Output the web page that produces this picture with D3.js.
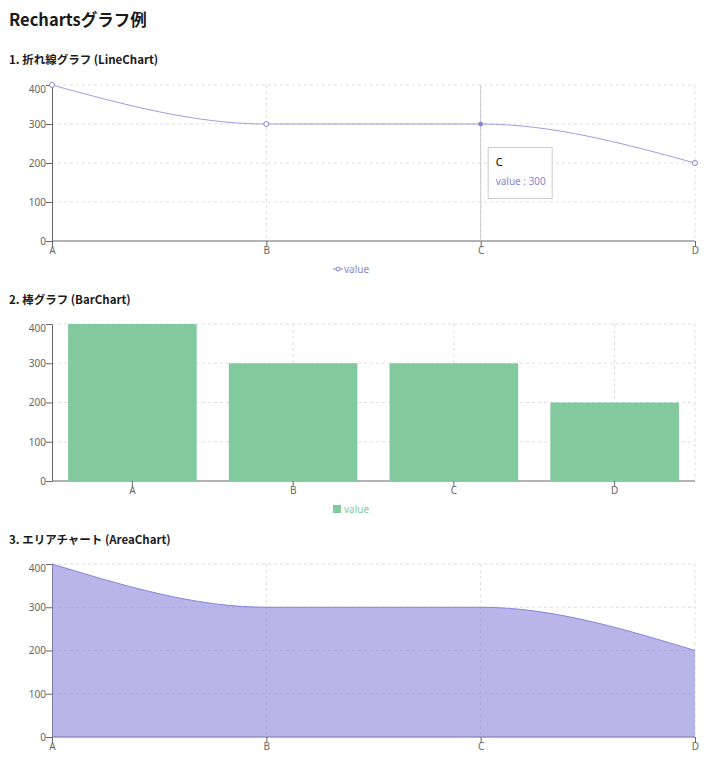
<!DOCTYPE html>
<html>
<head>
<meta charset="utf-8">
<script src="https://cdn.jsdelivr.net/npm/d3@7"></script>
<style>
  body { margin: 0; background: #fff; }
  text { font-family: "Noto Sans", "Noto Sans CJK JP", sans-serif; }
  .heading { font-family: "Noto Sans CJK JP", "Noto Sans", sans-serif; font-weight: bold; fill: #1a1a1a; }
  .tick text { fill: #666; font-size: 10px; }
  .grid line { stroke: #ddd; stroke-dasharray: 3 3; }
</style>
</head>
<body>
<script>
const categories = ["A", "B", "C", "D"];
const values = [400, 300, 300, 200];
const yTicks = [0, 100, 200, 300, 400];
const pageTitle = "Rechartsグラフ例";
const chartTitles = ["1. 折れ線グラフ (LineChart)", "2. 棒グラフ (BarChart)", "3. エリアチャート (AreaChart)"];
const seriesName = "value";
const activeCategory = "C";

const data = categories.map((c, i) => ({ name: c, value: values[i] }));

const width = 710, height = 763;
const left = 52, right = 695;
const lineColor = "#8884d8", barColor = "#82ca9d";

const svg = d3.select("body").append("svg")
  .attr("width", width)
  .attr("height", height);

svg.append("text")
  .attr("class", "heading")
  .attr("x", 9).attr("y", 26)
  .style("font-size", "16.5px")
  .text(pageTitle);

// one panel = title + grid + axes, returns scales
function panel(title, titleY, top, bottom, band) {
  svg.append("text")
    .attr("class", "heading")
    .attr("x", 9).attr("y", titleY)
    .style("font-size", "11.5px")
    .text(title);

  const y = d3.scaleLinear().domain([0, 400]).range([bottom, top]);
  const x = band
    ? d3.scaleBand().domain(categories).range([left, right])
    : d3.scalePoint().domain(categories).range([left, right]);
  const xc = d => band ? x(d) + x.bandwidth() / 2 : x(d);

  const g = svg.append("g").attr("class", "grid");
  g.selectAll(".h").data(yTicks.filter(t => t > 0)).enter().append("line")
    .attr("x1", left).attr("x2", right)
    .attr("y1", d => y(d)).attr("y2", d => y(d));
  g.selectAll(".v").data(band ? categories.concat(["_end"]) : categories.slice(1)).enter().append("line")
    .attr("x1", d => d == "_end" ? right : xc(d)).attr("x2", d => d == "_end" ? right : xc(d))
    .attr("y1", top).attr("y2", bottom);

  const xg = svg.append("g")
    .attr("transform", "translate(0," + bottom + ")")
    .call(d3.axisBottom(x).tickSize(6));
  xg.select(".domain").attr("stroke", "#666").attr("d", "M" + left + ",0H" + right);
  xg.selectAll(".tick line").attr("stroke", "#666");
  xg.selectAll(".tick text").attr("dy", "0.95em").attr("y", 3);

  const yg = svg.append("g")
    .attr("transform", "translate(" + left + ",0)")
    .call(d3.axisLeft(y).tickValues(yTicks).tickSize(6).tickSizeOuter(0));
  yg.select(".domain").attr("stroke", "#666");
  yg.selectAll(".tick line").attr("stroke", "#666");
  yg.selectAll(".tick text").attr("x", -6).attr("dy", d => d == 400 ? "0.75em" : "0.34em");

  return { x: xc, y: y, top: top, bottom: bottom };
}

// 1. line chart
const p1 = panel(chartTitles[0], 64, 85, 241, false);
svg.append("line")
  .attr("x1", p1.x(activeCategory)).attr("x2", p1.x(activeCategory))
  .attr("y1", p1.top).attr("y2", p1.bottom)
  .attr("stroke", "#ccc");
svg.append("path")
  .datum(data)
  .attr("fill", "none")
  .attr("stroke", lineColor)
  .attr("stroke-opacity", 0.8)
  .attr("d", d3.line().x(d => p1.x(d.name)).y(d => p1.y(d.value)).curve(d3.curveMonotoneX));
svg.selectAll(".dot").data(data).enter().append("circle")
  .attr("cx", d => p1.x(d.name)).attr("cy", d => p1.y(d.value))
  .attr("r", d => d.name == activeCategory ? 2 : 2.5)
  .attr("fill", d => d.name == activeCategory ? lineColor : "#fff")
  .attr("stroke", lineColor);

// tooltip
const tipD = data.find(d => d.name == activeCategory);
const tx = p1.x(activeCategory) + 7, ty = p1.y(tipD.value) + 23;
svg.append("rect")
  .attr("x", tx + 0.5).attr("y", ty + 0.5)
  .attr("width", 64).attr("height", 51)
  .attr("fill", "#fff").attr("stroke", "#ccc");
svg.append("text").attr("x", tx + 8).attr("y", ty + 19)
  .style("font-size", "11px").attr("fill", "#000").text(tipD.name);
svg.append("text").attr("x", tx + 8).attr("y", ty + 38)
  .style("font-size", "10px").attr("fill", lineColor).text(seriesName + " : " + tipD.value);

// legend 1
const lg1 = svg.append("g").attr("transform", "translate(338,269)");
lg1.append("line").attr("x1", -5).attr("x2", 5).attr("y1", 0).attr("y2", 0).attr("stroke", lineColor);
lg1.append("circle").attr("cx", 0).attr("cy", 0).attr("r", 2).attr("fill", "#fff").attr("stroke", lineColor);
lg1.append("text").attr("x", 6).attr("y", 4).style("font-size", "10px").attr("fill", lineColor).text(seriesName);

// 2. bar chart
const p2 = panel(chartTitles[1], 304, 324, 481, true);
const bw = (right - left) / categories.length * 0.8;
svg.selectAll(".bar").data(data).enter().append("rect")
  .attr("x", d => p2.x(d.name) - bw / 2)
  .attr("y", d => p2.y(d.value))
  .attr("width", bw)
  .attr("height", d => p2.y(0) - p2.y(d.value))
  .attr("fill", barColor);

const lg2 = svg.append("g").attr("transform", "translate(341,509)");
lg2.append("rect").attr("x", -8).attr("y", -4).attr("width", 8).attr("height", 8).attr("fill", barColor);
lg2.append("text").attr("x", 3).attr("y", 4).style("font-size", "10px").attr("fill", barColor).text(seriesName);

// 3. area chart
const p3 = panel(chartTitles[2], 544, 564, 737, false);
svg.append("path")
  .datum(data)
  .attr("fill", lineColor)
  .attr("fill-opacity", 0.6)
  .attr("d", d3.area().x(d => p3.x(d.name)).y0(p3.y(0)).y1(d => p3.y(d.value)).curve(d3.curveMonotoneX));
svg.append("path")
  .datum(data)
  .attr("fill", "none")
  .attr("stroke", lineColor)
  .attr("d", d3.line().x(d => p3.x(d.name)).y(d => p3.y(d.value)).curve(d3.curveMonotoneX));
</script>
</body>
</html>
